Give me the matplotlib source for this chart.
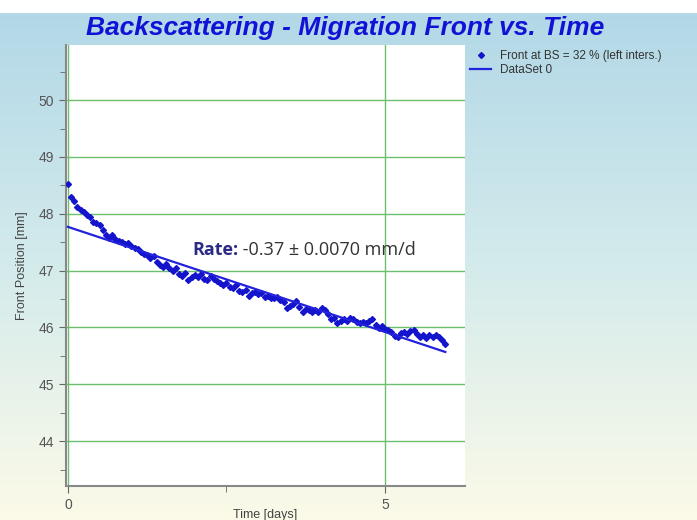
import numpy as np
import matplotlib
matplotlib.use('Agg')
import matplotlib.pyplot as plt
from matplotlib.lines import Line2D

plt.rcParams['font.family'] = ['Liberation Sans', 'DejaVu Sans']

# measured front position (left intersection at BS = 32 %)
time_days = [
    0.00, 0.05, 0.10, 0.15, 0.20, 0.25, 0.30, 0.35, 0.40, 0.45,
    0.50, 0.55, 0.60, 0.65, 0.70, 0.75, 0.80, 0.85, 0.90, 0.95,
    1.00, 1.05, 1.10, 1.15, 1.20, 1.25, 1.30, 1.35, 1.40, 1.45,
    1.50, 1.55, 1.60, 1.65, 1.70, 1.75, 1.80, 1.85, 1.90, 1.95,
    2.00, 2.05, 2.10, 2.15, 2.20, 2.25, 2.30, 2.35, 2.40, 2.45,
    2.50, 2.55, 2.60, 2.65, 2.70, 2.75, 2.80, 2.85, 2.90, 2.95,
    3.00, 3.05, 3.10, 3.15, 3.20, 3.25, 3.30, 3.35, 3.40, 3.45,
    3.50, 3.55, 3.60, 3.65, 3.70, 3.75, 3.80, 3.85, 3.90, 3.95,
    4.00, 4.05, 4.10, 4.15, 4.20, 4.25, 4.30, 4.35, 4.40, 4.45,
    4.50, 4.55, 4.60, 4.65, 4.70, 4.75, 4.80, 4.85, 4.90, 4.95,
    5.00, 5.05, 5.10, 5.15, 5.20, 5.25, 5.30, 5.35, 5.40, 5.45,
    5.50, 5.55, 5.60, 5.65, 5.70, 5.75, 5.80, 5.85, 5.90, 5.95,
]
front_mm = [
    48.52, 48.30, 48.22, 48.12, 48.06, 48.04, 47.98, 47.94, 47.86, 47.84,
    47.80, 47.72, 47.62, 47.58, 47.62, 47.55, 47.52, 47.50, 47.46, 47.48,
    47.44, 47.40, 47.38, 47.33, 47.30, 47.28, 47.22, 47.25, 47.16, 47.10,
    47.06, 47.12, 47.04, 47.00, 47.04, 46.94, 46.90, 46.96, 46.84, 46.88,
    46.92, 46.89, 46.94, 46.86, 46.84, 46.90, 46.86, 46.82, 46.78, 46.74,
    46.78, 46.72, 46.70, 46.74, 46.64, 46.62, 46.66, 46.55, 46.60, 46.62,
    46.58, 46.60, 46.54, 46.56, 46.52, 46.51, 46.54, 46.48, 46.44, 46.35,
    46.38, 46.42, 46.46, 46.36, 46.28, 46.32, 46.30, 46.27, 46.31, 46.28,
    46.34, 46.30, 46.24, 46.14, 46.16, 46.08, 46.12, 46.14, 46.12, 46.17,
    46.14, 46.10, 46.07, 46.10, 46.08, 46.12, 46.15, 46.04, 45.99, 46.02,
    45.98, 45.96, 45.92, 45.85, 45.84, 45.90, 45.92, 45.88, 45.94, 45.95,
    45.89, 45.84, 45.86, 45.82, 45.86, 45.84, 45.86, 45.83, 45.78, 45.70,
]

# linear fit (DataSet 0)
fit_intercept = 47.77
fit_slope = -0.37
fit_t = [0.0, 5.95]

fig = plt.figure(figsize=(6.97, 5.2), dpi=100)

# background gradient, white strip at top
bg = fig.add_axes([0, 0, 1, 1], zorder=-10)
bg.axis('off')
n = 256
top = np.array([178, 216, 231]) / 255
mid = np.array([212, 235, 236]) / 255
bot = np.array([252, 250, 232]) / 255
f = np.linspace(0, 1, n)[:, None]
grad = np.where(f < 0.5, top + (mid - top) * (f / 0.5), mid + (bot - mid) * ((f - 0.5) / 0.5))
img = grad[:, None, :].repeat(2, axis=1)
white_frac = 13 / 520
bg.imshow(img, extent=[0, 1, 0, 1 - white_frac], aspect='auto')
bg.set_xlim(0, 1)
bg.set_ylim(0, 1)

ax = fig.add_axes([66 / 697, 1 - 486 / 520, (465 - 66) / 697, (486 - 45) / 520])
ax.set_facecolor('white')

blue = '#1414cc'
ax.plot(time_days, front_mm, linestyle='none', marker='D', markersize=3.0,
        color=blue, zorder=3)
fit_v = [fit_intercept + fit_slope * t for t in fit_t]
ax.plot(fit_t, fit_v, color='#2222dd', linewidth=1.6, zorder=4)

ax.set_xlim(-0.03, 6.26)
ax.set_ylim(43.21, 50.97)
ax.set_xticks([0, 5])
ax.set_xticks([2.5], minor=True)
ax.set_yticks([44, 45, 46, 47, 48, 49, 50])
ax.set_yticks([43.5, 44.5, 45.5, 46.5, 47.5, 48.5, 49.5, 50.5], minor=True)
ax.grid(True, which='major', color='#6cbf6c', linewidth=1.0)
ax.set_axisbelow(True)
ax.tick_params(axis='both', which='major', length=5, color='#666666',
               labelcolor='#555555', labelsize=10)
ax.tick_params(axis='both', which='minor', length=4, color='#666666')
for side in ['top', 'right']:
    ax.spines[side].set_visible(False)
for side in ['left', 'bottom']:
    ax.spines[side].set_color('#888888')
    ax.spines[side].set_linewidth(1.5)

ax.set_xlabel('Time [days]', color='#444444', fontsize=9, labelpad=-2)
ax.set_ylabel('Front Position [mm]', color='#444444', fontsize=9, labelpad=8)

fig.text(0.495, 0.946, 'Backscattering - Migration Front vs. Time',
         ha='center', va='center', fontsize=19, fontweight='bold',
         fontstyle='italic', color='#1212d6')

rate_font = ['Open Sans', 'DejaVu Sans']
t1 = ax.text(1.96, 47.36, 'Rate:', ha='left', va='center', fontsize=13,
             fontweight='bold', color='#2b2b86', family=rate_font, zorder=5)
ax.annotate(' -0.37 \u00b1 0.0070 mm/d', xy=(1, 0.5), xycoords=t1,
            ha='left', va='center', fontsize=13, color='#333333',
            family=rate_font, zorder=5)

handles = [
    Line2D([], [], linestyle='none', marker='D', markersize=3.0, color=blue),
    Line2D([], [], color='#2222dd', linewidth=1.6),
]
labels = ['Front at BS = 32 % (left inters.)', 'DataSet 0']
leg = fig.legend(handles, labels, loc='upper left',
                 bbox_to_anchor=(463 / 697, 1 - 43 / 520), frameon=False,
                 fontsize=8.5, handlelength=1.8, handletextpad=0.7,
                 labelspacing=0.15, borderaxespad=0.2)
for txt in leg.get_texts():
    txt.set_color('#333333')

fig.savefig('out.png', dpi=100)
